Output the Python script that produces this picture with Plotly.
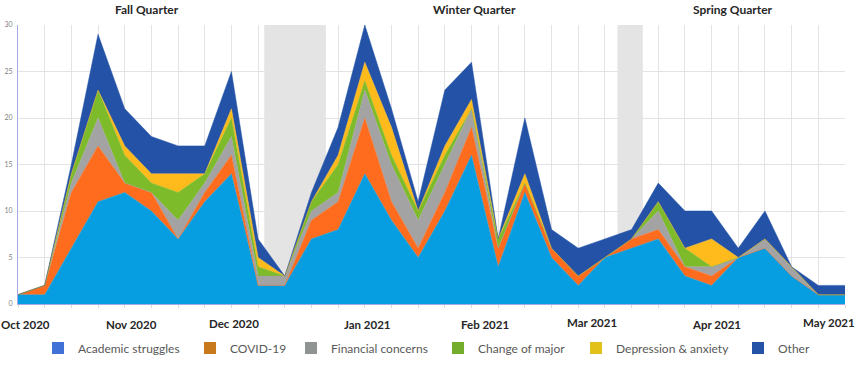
import plotly.graph_objects as go

# ---- data (weekly counts, stacked) ----
weeks = list(range(32))
academic = [1, 1, 6, 11, 12, 10, 7, 11, 14, 2, 2, 7, 8, 14, 9, 5, 10, 16, 4, 12, 5, 2, 5, 6, 7, 3, 2, 5, 6, 3, 1, 1]
covid = [0, 1, 6, 6, 1, 2, 0, 1, 2, 0, 0, 2, 3, 6, 2, 1, 2, 3, 2, 1, 1, 1, 0, 1, 1, 1, 1, 0, 0, 0, 0, 0]
financial = [0, 0, 1, 3, 0, 0, 2, 1, 2, 1, 1, 1, 1, 3, 4, 3, 3, 2, 0, 0, 0, 0, 0, 0, 2, 0, 1, 0, 1, 1, 0, 0]
major = [0, 0, 1, 3, 3, 1, 3, 1, 2, 1, 0, 1, 3, 1, 1, 1, 1, 0, 1, 0, 0, 0, 0, 0, 1, 2, 0, 0, 0, 0, 0, 0]
depression = [0, 0, 0, 0, 1, 1, 2, 0, 1, 1, 0, 0, 1, 2, 3, 0, 1, 1, 0, 1, 0, 0, 0, 0, 0, 0, 3, 0, 0, 0, 0, 0]
other = [0, 0, 1, 6, 4, 4, 3, 3, 4, 2, 0, 1, 3, 4, 2, 1, 6, 4, 0, 6, 2, 3, 2, 1, 2, 4, 3, 1, 3, 0, 1, 1]

series_names = ["Academic struggles", "COVID-19", "Financial concerns",
                "Change of major", "Depression & anxiety", "Other"]
series_values = [academic, covid, financial, major, depression, other]

month_labels = ["Oct 2020", "Nov 2020", "Dec 2020", "Jan 2021",
                "Feb 2021", "Mar 2021", "Apr 2021", "May 2021"]
quarter_labels = ["Fall Quarter", "Winter Quarter", "Spring Quarter"]
y_ticks = [0, 5, 10, 15, 20, 25, 30]

# ---- styling ----
fill_colors = ["#069EE0", "#FF6C1E", "#A3A3A3", "#7DBB2B", "#FFBA1C", "#2352A6"]
legend_colors = ["#3F71D6", "#C8791C", "#8F9493", "#74AD2C", "#E2C21A", "#2352A6"]
legend_widths = [107, 56, 102, 93, 117, 40]
month_x = [0.28, 4.24, 8.11, 13.1, 17.5, 21.5, 26.2, 30.4]
month_y = [-0.075, -0.075, -0.069, -0.075, -0.075, -0.068, -0.075, -0.068]
quarter_x = [4.83, 17.1, 26.8]
break_bands = [(9.23, 11.54), (22.47, 23.42)]

fig = go.Figure()
for name, vals, col in zip(series_names, series_values, fill_colors):
    fig.add_trace(go.Scatter(
        x=weeks, y=vals, name=name, mode="lines", stackgroup="one",
        line=dict(width=0.5, color=col), fillcolor=col, showlegend=False,
        hoverinfo="x+y+name"))

for name, col, lw in zip(series_names, legend_colors, legend_widths):
    fig.add_trace(go.Scatter(
        x=[None], y=[None], name=name, mode="markers", legendwidth=lw,
        marker=dict(symbol="square", size=6, color=col), showlegend=True))

for x0, x1 in break_bands:
    fig.add_shape(type="rect", xref="x", yref="paper", x0=x0, x1=x1, y0=0, y1=1,
                  fillcolor="#E4E4E4", line=dict(width=0), layer="below")

for lab, mx, my in zip(month_labels, month_x, month_y):
    fig.add_annotation(text=lab, x=mx, y=my, xref="x", yref="paper",
                       showarrow=False, xanchor="center", yanchor="middle",
                       font=dict(family="Lato", size=11.5, color="#262626", weight="bold"))

for lab, qx in zip(quarter_labels, quarter_x):
    fig.add_annotation(text=lab, x=qx, y=1.054, xref="x", yref="paper",
                       showarrow=False, xanchor="center", yanchor="middle",
                       font=dict(family="Lato", size=12, color="#262626", weight="bold"))

fig.update_layout(
    width=860, height=368,
    margin=dict(l=18, r=15, t=25, b=64, autoexpand=False),
    paper_bgcolor="white", plot_bgcolor="white",
    font=dict(family="Lato", color="#595959"),
    legend=dict(orientation="h", traceorder="normal", x=0.0242, xanchor="left",
                y=-0.158, yanchor="middle",
                font=dict(family="Lato", size=12, color="#595959"),
                itemsizing="constant", bgcolor="rgba(0,0,0,0)"),
    xaxis=dict(range=[0, 31], tickmode="linear", tick0=0, dtick=1, automargin=False,
               showticklabels=False, showgrid=True, gridcolor="#E3E3E3", gridwidth=1,
               zeroline=False, showline=True, linecolor="#A9A9E6", linewidth=1,
               ticks="outside", ticklen=3, tickcolor="#D9D9D9"),
    yaxis=dict(range=[0, 30], tickvals=y_ticks, showgrid=True, gridcolor="#E3E3E3",
               gridwidth=1, zeroline=False, showline=True, linecolor="#A9A9E6",
               linewidth=1, ticks="", automargin=False,
               tickfont=dict(size=7, color="#7F7F7F"), ticklabelstandoff=3),
)

# remove the default 8px page margin so the 860x368 figure fills the window exactly
fig.write_html("out.html", config={"displayModeBar": False},
               post_script="document.body.style.margin='0';")
